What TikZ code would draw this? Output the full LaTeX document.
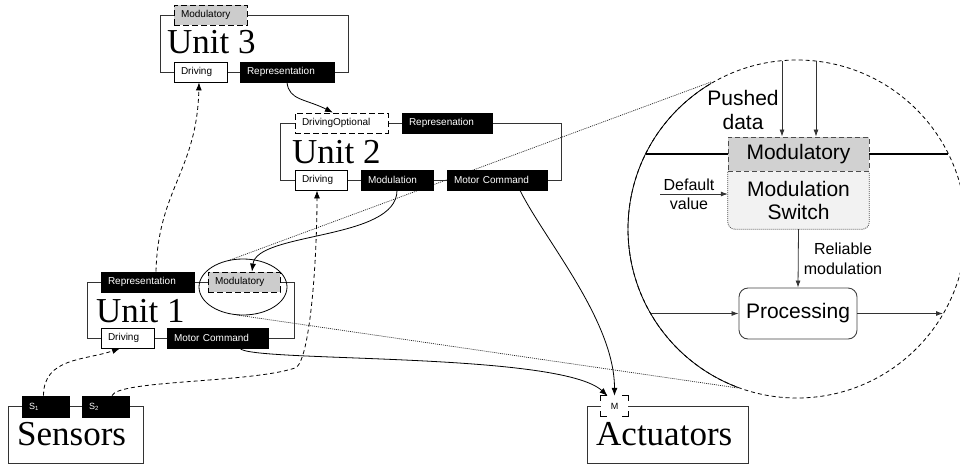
\documentclass[tikz,border=0pt]{standalone}
\usepackage{fontspec}
\setmainfont{Liberation Serif}
\setsansfont{Liberation Sans}
\usetikzlibrary{arrows.meta,calc}
\pgfdeclarelayer{background}
\pgfsetlayers{background,main}

\tikzset{
  every node/.style={inner sep=0pt},
  unitframe/.style={draw=black!80, line width=1pt, fill=none},
  tag/.style={draw=black, line width=0.8pt, inner xsep=7pt, inner ysep=0pt,
    minimum height=20pt, align=left, font=\sffamily\fontsize{10}{12}\selectfont},
  darktag/.style={tag, fill=black, text=white, text width=#1},
  lighttag/.style={tag, fill=white, text width=#1},
  opttag/.style={tag, fill=white, dash pattern=on 6pt off 3pt, text width=#1},
  modtag/.style={tag, fill=black!20, dash pattern=on 6pt off 3pt, text width=#1},
  sensortag/.style={darktag=#1, minimum height=21pt, font=\sffamily\fontsize{9}{10}\selectfont},
  mtag/.style={fill=white, minimum width=27pt, minimum height=20pt,
    font=\sffamily\fontsize{9}{10}\selectfont},
  unitname/.style={anchor=base west, font=\fontsize{35}{40}\selectfont},
  flow/.style={line width=0.8pt, -{Latex[length=8pt,width=6pt]}},
  drive/.style={flow, dash pattern=on 4pt off 3pt},
  zoomline/.style={black!85, line width=0.7pt, dash pattern=on 1pt off 1pt},
  bigtext/.style={font=\sffamily\fontsize{21}{24}\selectfont, align=center},
  smalltext/.style={font=\sffamily\fontsize{16}{20}\selectfont, align=center},
  inflow/.style={black!80, line width=0.8pt, -{Latex[length=7pt,width=5pt]}},
}

\begin{document}
\begin{tikzpicture}[x=1pt,y=-1pt]
\useasboundingbox (0,0) rectangle (960,464);

% ---------- Unit 3 ----------
\node[unitframe, minimum width=188pt, minimum height=57pt] (u3) at (254,43.5) {};
\node[modtag=59pt] (u3mod) at (210.5,15) {Modulatory};
\node[lighttag=39pt] (u3drv) at (200.5,72) {Driving};
\node[darktag=80pt] (u3rep) at (287,72) {Representation};
\node[unitname] (u3name) at (167,53) {Unit 3};

% ---------- Unit 2 ----------
\node[unitframe, minimum width=281pt, minimum height=57pt] (u2) at (420.5,151.5) {};
\node[opttag=79pt] (u2dro) at (341.5,123) {DrivingOptional};
\node[darktag=76pt] (u2rep) at (447,123) {Represenation};
\node[lighttag=38pt] (u2drv) at (321,180) {Driving};
\node[darktag=58pt] (u2mdl) at (397,180) {Modulation};
\node[darktag=86pt] (u2mc) at (497,180) {Motor Command};
\node[unitname] (u2name) at (292,163) {Unit 2};

% ---------- Unit 1 ----------
\node[unitframe, minimum width=207pt, minimum height=56pt] (u1) at (190.5,310) {};
\node[darktag=79pt] (u1rep) at (147.5,282) {Representation};
\node[modtag=58pt] (u1mod) at (244,282) {Modulatory};
\node[lighttag=39pt] (u1drv) at (127.5,338) {Driving};
\node[darktag=87pt] (u1mc) at (217.5,338) {Motor Command};
\node[unitname] (u1name) at (96,322) {Unit 1};
\draw[line width=0.8pt] (243,287) ellipse [x radius=44, y radius=28];

% ---------- Sensors ----------
\node[unitframe, minimum width=135pt, minimum height=57pt] (sens) at (75.5,434.5) {};
\node[sensortag=33pt] (s1) at (45.5,406.5) {S\textsubscript{1}};
\node[sensortag=33pt] (s2) at (105.5,406.5) {S\textsubscript{2}};
\node[unitname] (sensname) at (17,445) {Sensors};

% ---------- Actuators ----------
\node[unitframe, minimum width=161pt, minimum height=57pt] (act) at (667.5,434.5) {};
\node[mtag] (m) at (614.5,406) {M};
\draw[line width=0.8pt] ($(m.north west)+(0,5)$) -- (m.north west) -- ($(m.north west)+(6,0)$);
\draw[line width=0.8pt] ($(m.north east)+(0,5)$) -- (m.north east) -- ($(m.north east)+(-6,0)$);
\draw[line width=0.8pt] ($(m.south west)+(0,-5)$) -- (m.south west) -- ($(m.south west)+(6,0)$);
\draw[line width=0.8pt] ($(m.south east)+(0,-5)$) -- (m.south east) -- ($(m.south east)+(-6,0)$);
\node[unitname] (actname) at (596,445) {Actuators};

% ---------- magnified view of the modulatory input ----------
\coordinate (cc) at (797,229);
\coordinate (ztop) at (711,82);
\coordinate (zbot) at (738,388);
\coordinate (ell1) at (230,260);
\coordinate (ell2) at (237,315);

\node[draw=black!70, dash pattern=on 5pt off 3pt, line width=0.9pt, fill=black!18,
      minimum width=141pt, minimum height=34pt, bigtext] (bigmod) at (798.5,154) {Modulatory};
\node[minimum width=141pt, minimum height=57pt, font=\sffamily\fontsize{21}{23}\selectfont,
      align=center] (msw) at (798.5,200.5) {Modulation\\Switch};
\node[draw=black!75, line width=0.9pt, rounded corners=9pt, minimum width=118pt,
      minimum height=51pt, bigtext] (proc) at (798,313.5) {Processing};
\node[bigtext] (pushed) at (743,110) {Pushed\\data};
\node[font=\sffamily\fontsize{16}{19}\selectfont, align=center] (dv) at (689,194) {Default\\value};
\node[smalltext] (rel) at (843,259) {Reliable\\modulation};

\coordinate (p1) at (782,61);
\coordinate (p2) at (816,61);
\coordinate (tl) at (646,154);
\coordinate (tr) at (948,154);
\coordinate (cin) at (651,313.5);
\coordinate (cout) at (943,313.5);

\begin{pgfonlayer}{background}
  % lens outline: dashed all round, solid on the side facing Unit 1
  \draw[line width=0.8pt, dash pattern=on 4pt off 3pt] (cc) circle[radius=169];
  \begin{scope}
    \clip (ztop) -- (zbot) -- (600,430) -- (600,30) -- cycle;
    \draw[line width=0.8pt] (cc) circle[radius=169];
  \end{scope}
  % zoom lines
  \draw[zoomline] (ell1) -- (ztop);
  \draw[zoomline] (ell2) -- (zbot);
  % switch body with rounded lower corners
  \fill[black!5, rounded corners=7pt] ($(msw.north west)+(0,-10)$) rectangle (msw.south east);
  \draw[black!70, line width=0.8pt, dash pattern=on 1pt off 1pt, rounded corners=7pt]
    (msw.north west) -- (msw.south west) -- (msw.south east) -- (msw.north east);
  % signal line through the modulatory port
  \draw[line width=2.2pt] (tl) -- (bigmod.west);
  \draw[line width=2.2pt] (bigmod.east) -- (tr);

  % connectors between units
  \draw[flow] (u3rep.south) .. controls +(2,18) and +(-28,-14) .. ([xshift=-8.5pt]u2dro.north);
  \draw[flow] (u2mdl.south) .. controls +(0,50) and +(5,-40) .. ([xshift=8pt]u1mod.north);
  \draw[flow] ([xshift=23pt]u2mc.south) .. controls +(25,50) and +(0,-75) .. (m.north);
  \draw[flow] ([xshift=22.5pt]u1mc.south) .. controls +(10,14) and +(-47.5,-44) .. ([xshift=-7pt]m.north);
  \draw[drive] ([xshift=-2pt]s1.north) .. controls +(0,-38) and +(-35,12) .. ([xshift=-7.5pt]u1drv.south);
  \draw[drive] ([xshift=6.5pt]s2.north) .. controls (118,380) and (250,383) .. (295,368)
    .. controls (310,363) and (317,260) .. ([xshift=-4pt]u2drv.south);
  \draw[drive] ([xshift=8.5pt]u1rep.north) .. controls +(2,-82) and +(-2,88) .. ([xshift=-1.5pt]u3drv.south);
\end{pgfonlayer}

% arrows inside the lens
\draw[inflow] (p1) -- (p1 |- bigmod.north);
\draw[inflow] (p2) -- (p2 |- bigmod.north);
\draw[inflow] ([xshift=-3pt]dv.west) -- (dv.west -| msw.west);
\draw[inflow] (msw.south) -- (proc.north);
\draw[inflow] (cin) -- (proc.west);
\draw[inflow] (proc.east) -- (cout);
\end{tikzpicture}
\end{document}
